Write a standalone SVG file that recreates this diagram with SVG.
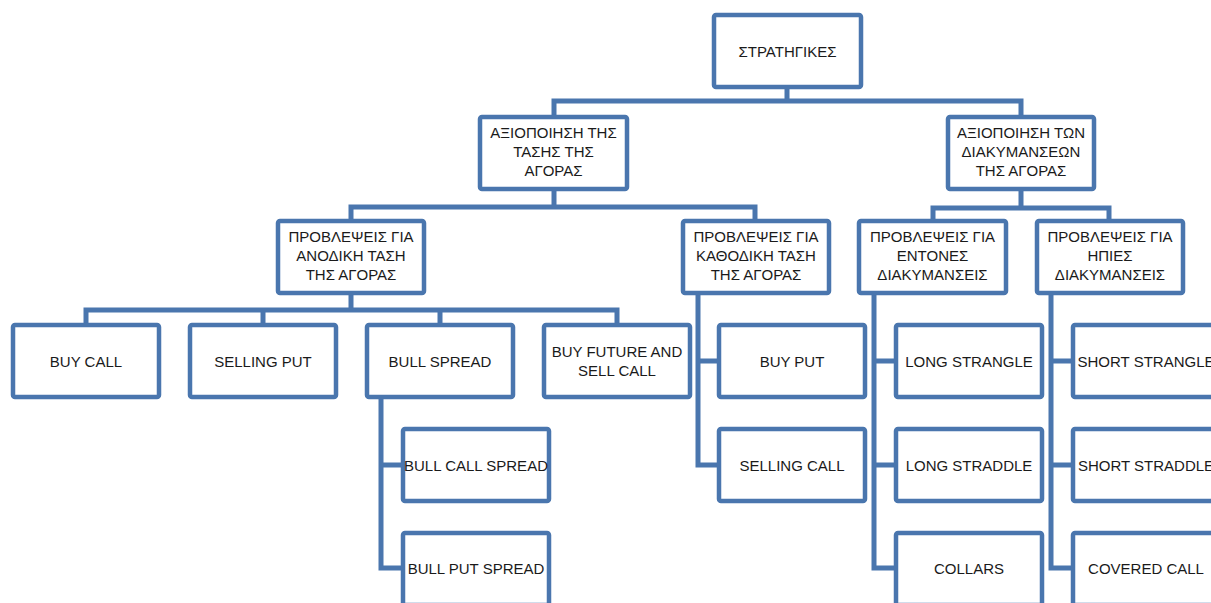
<svg xmlns="http://www.w3.org/2000/svg" width="1211" height="603" viewBox="0 0 1211 603">
<style>
.box{fill:#ffffff;stroke:#4a76ae;stroke-width:4.5;}
.c{fill:none;stroke:#4a76ae;stroke-width:5;stroke-linejoin:miter;stroke-linecap:butt;}
text{font-family:"Liberation Sans",Arial,sans-serif;font-size:15px;fill:#1a1a1a;text-anchor:middle;}
</style>
<rect width="1211" height="603" fill="#ffffff"/>
<g id="connectors">
<path class="c" d="M787,89V101M554,115V101H1021V115"/>
<path class="c" d="M554,191V207M351,219V207H755V219"/>
<path class="c" d="M1021,191V208M933,219V208H1109V219"/>
<path class="c" d="M351,295V310M86,323V310H617V323M263,310V323M440,310V323"/>
<path class="c" d="M381,399V568H401M381,465H401"/>
<path class="c" d="M698,295V465H717M698,361H717"/>
<path class="c" d="M874,295V568H894M874,361H894M874,465H894"/>
<path class="c" d="M1051,295V568H1071M1051,361H1071M1051,465H1071"/>
</g>
<g id="n-root"><rect class="box" x="714" y="15" width="147" height="72" rx="2"/><text x="787.5" y="56.5">ΣΤΡΑΤΗΓΙΚΕΣ</text></g>
<g id="n-trend"><rect class="box" x="480" y="117" width="147" height="72" rx="2"/><text x="553.5" y="137.7">ΑΞΙΟΠΟΙΗΣΗ ΤΗΣ</text><text x="553.5" y="157">ΤΑΣΗΣ ΤΗΣ</text><text x="553.5" y="176.3">ΑΓΟΡΑΣ</text></g>
<g id="n-volatility"><rect class="box" x="948" y="117" width="146" height="72" rx="2"/><text x="1021" y="137.7">ΑΞΙΟΠΟΙΗΣΗ ΤΩΝ</text><text x="1021" y="157">ΔΙΑΚΥΜΑΝΣΕΩΝ</text><text x="1021" y="176.3">ΤΗΣ ΑΓΟΡΑΣ</text></g>
<g id="n-up"><rect class="box" x="278" y="221" width="146" height="72" rx="2"/><text x="351" y="241.7">ΠΡΟΒΛΕΨΕΙΣ ΓΙΑ</text><text x="351" y="261">ΑΝΟΔΙΚΗ ΤΑΣΗ</text><text x="351" y="280.3">ΤΗΣ ΑΓΟΡΑΣ</text></g>
<g id="n-down"><rect class="box" x="683" y="221" width="146" height="72" rx="2"/><text x="756" y="241.7">ΠΡΟΒΛΕΨΕΙΣ ΓΙΑ</text><text x="756" y="261">ΚΑΘΟΔΙΚΗ ΤΑΣΗ</text><text x="756" y="280.3">ΤΗΣ ΑΓΟΡΑΣ</text></g>
<g id="n-strong"><rect class="box" x="859" y="221" width="147" height="72" rx="2"/><text x="932.5" y="241.7">ΠΡΟΒΛΕΨΕΙΣ ΓΙΑ</text><text x="932.5" y="261">ΕΝΤΟΝΕΣ</text><text x="932.5" y="280.3">ΔΙΑΚΥΜΑΝΣΕΙΣ</text></g>
<g id="n-mild"><rect class="box" x="1037" y="221" width="146" height="72" rx="2"/><text x="1110" y="241.7">ΠΡΟΒΛΕΨΕΙΣ ΓΙΑ</text><text x="1110" y="261">ΗΠΙΕΣ</text><text x="1110" y="280.3">ΔΙΑΚΥΜΑΝΣΕΙΣ</text></g>
<g id="n-buycall"><rect class="box" x="13" y="325" width="146" height="72" rx="2"/><text x="86" y="366.5">BUY CALL</text></g>
<g id="n-sellingput"><rect class="box" x="190" y="325" width="146" height="72" rx="2"/><text x="263" y="366.5">SELLING PUT</text></g>
<g id="n-bullspread"><rect class="box" x="367" y="325" width="146" height="72" rx="2"/><text x="440" y="366.5">BULL SPREAD</text></g>
<g id="n-buyfuture"><rect class="box" x="544" y="325" width="146" height="72" rx="2"/><text x="617" y="356.5">BUY FUTURE AND</text><text x="617" y="376">SELL CALL</text></g>
<g id="n-buyput"><rect class="box" x="719" y="325" width="146" height="72" rx="2"/><text x="792" y="366.5">BUY PUT</text></g>
<g id="n-longstrangle"><rect class="box" x="896" y="325" width="146" height="72" rx="2"/><text x="969" y="366.5">LONG STRANGLE</text></g>
<g id="n-shortstrangle"><rect class="box" x="1073" y="325" width="146" height="72" rx="2"/><text x="1146" y="366.5">SHORT STRANGLE</text></g>
<g id="n-bullcall"><rect class="box" x="403" y="429" width="146" height="72" rx="2"/><text x="476" y="470.5">BULL CALL SPREAD</text></g>
<g id="n-sellingcall"><rect class="box" x="719" y="429" width="146" height="72" rx="2"/><text x="792" y="470.5">SELLING CALL</text></g>
<g id="n-longstraddle"><rect class="box" x="896" y="429" width="146" height="72" rx="2"/><text x="969" y="470.5">LONG STRADDLE</text></g>
<g id="n-shortstraddle"><rect class="box" x="1073" y="429" width="146" height="72" rx="2"/><text x="1146" y="470.5">SHORT STRADDLE</text></g>
<g id="n-bullput"><rect class="box" x="403" y="533" width="146" height="72" rx="2"/><text x="476" y="574">BULL PUT SPREAD</text></g>
<g id="n-collars"><rect class="box" x="896" y="533" width="146" height="72" rx="2"/><text x="969" y="574">COLLARS</text></g>
<g id="n-coveredcall"><rect class="box" x="1073" y="533" width="146" height="72" rx="2"/><text x="1146" y="574">COVERED CALL</text></g>
</svg>
